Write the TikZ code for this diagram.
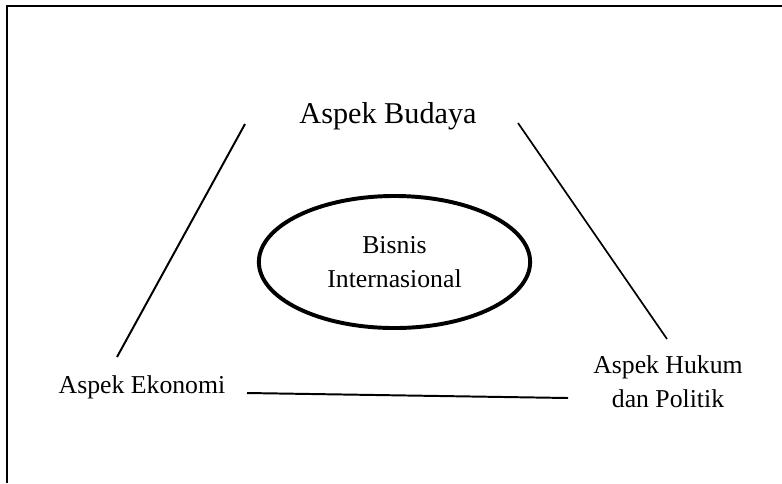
\documentclass[tikz,border=0pt]{standalone}
\usepackage{fontspec}
\setmainfont{Liberation Serif}
\usepackage{tikz}
\usetikzlibrary{shapes.geometric}

\begin{document}
\begin{tikzpicture}[x=0.025cm, y=-0.025cm]
    \useasboundingbox (0,0) rectangle (782,483);
    % Frame
    \draw[line width=1.4pt] (7,483) -- (7,6) -- (782,6);
    % Centre
    \node [draw,
        ellipse,
        line width=2.8pt,
        minimum width=6.78cm,
        minimum height=3.3cm,
        align=center,
        font=\fontsize{18.3}{24.2}\selectfont
    ]  (Bisnis) at (394.5,262) {Bisnis\\Internasional};
    % Aspects
    \node [anchor=base,
        font=\fontsize{21.5}{26}\selectfont
    ]  (Budaya) at (388,123) {Aspek Budaya};
    \node [anchor=base,
        font=\fontsize{18.3}{24.2}\selectfont
    ]  (Ekonomi) at (142,393) {Aspek Ekonomi};
    \node [align=center,
        font=\fontsize{18.3}{24.2}\selectfont
    ]  (Hukum) at (668,382) {Aspek Hukum\\dan Politik};
    % Line ends
    \coordinate (BudayaL) at (245,124);
    \coordinate (BudayaR) at (518,123);
    \coordinate (EkonomiT) at (117,357);
    \coordinate (EkonomiR) at (247,393);
    \coordinate (HukumT) at (667,339);
    \coordinate (HukumL) at (568,398);
    % Lines
    \draw[line width=1.4pt] (BudayaL) -- (EkonomiT);
    \draw[line width=1.2pt] (BudayaR) -- (HukumT);
    \draw[line width=1.4pt] (EkonomiR) -- (HukumL);

\end{tikzpicture}
\end{document}
